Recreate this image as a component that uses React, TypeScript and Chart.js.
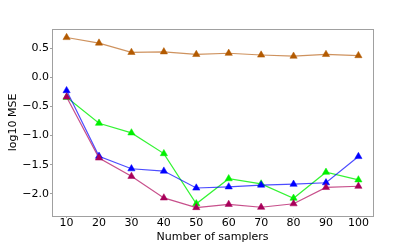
import React, { useEffect, useRef } from "react";
import { Chart, registerables } from "chart.js";

Chart.register(...registerables);

const samplers = [10, 20, 30, 40, 50, 60, 70, 80, 90, 100];
const orangeSeries = [0.68, 0.585, 0.425, 0.435, 0.39, 0.41, 0.38, 0.36, 0.39, 0.37];
const blueSeries = [-0.23, -1.355, -1.57, -1.61, -1.9, -1.88, -1.85, -1.835, -1.81, -1.36];
const greenSeries = [-0.345, -0.79, -0.955, -1.31, -2.17, -1.74, -1.83, -2.075, -1.63, -1.76];
const magentaSeries = [-0.34, -1.385, -1.7, -2.07, -2.235, -2.18, -2.23, -2.17, -1.89, -1.87];
const yTicks = [-2.0, -1.5, -1.0, -0.5, 0.0, 0.5];
const xTicks = samplers;

const FONT = "'DejaVu Sans', sans-serif";
const SPINE = "#a0a0a0";

const frame = {
  id: "frame",
  afterDraw(chart: any) {
    const { ctx, chartArea } = chart;
    ctx.save();
    ctx.strokeStyle = SPINE;
    ctx.lineWidth = 1;
    ctx.strokeRect(
      Math.round(chartArea.left) + 0.5,
      Math.round(chartArea.top) + 0.5,
      Math.round(chartArea.right - chartArea.left),
      Math.round(chartArea.bottom - chartArea.top)
    );
    ctx.restore();
  },
};

function mk(values: number[], color: string, line: string) {
  return {
    data: samplers.map((x, i) => ({ x, y: values[i] })),
    borderColor: line,
    borderWidth: 1.2,
    pointStyle: "triangle",
    pointRadius: 4.2,
    pointBackgroundColor: color,
    pointBorderColor: color,
    pointBorderWidth: 0.5,
    fill: false,
    tension: 0,
  };
}

const gridOpts = {
  display: true,
  drawOnChartArea: false,
  drawTicks: true,
  tickLength: 2,
  color: SPINE,
  tickColor: SPINE,
  lineWidth: 1,
};

export default function App() {
  const ref = useRef<HTMLCanvasElement>(null);
  useEffect(() => {
    const chart = new Chart(ref.current as HTMLCanvasElement, {
      type: "line",
      data: {
        datasets: [
          mk(orangeSeries, "#b35a00", "rgba(190,110,40,0.75)"),
          mk(magentaSeries, "#a8005a", "rgba(180,20,100,0.75)"),
          mk(blueSeries, "#0000ff", "rgba(0,0,255,0.7)"),
          mk(greenSeries, "#00f000", "rgba(0,240,0,0.8)"),
        ] as any,
      },
      options: {
        animation: false,
        responsive: false,
        devicePixelRatio: 1,
        layout: { padding: { top: 29, right: 42, left: 0, bottom: 0 } },
        plugins: { legend: { display: false }, tooltip: { enabled: false } },
        scales: {
          x: {
            type: "linear",
            min: 5.5,
            max: 104.5,
            grid: gridOpts as any,
            border: { display: false },
            afterBuildTicks: (s: any) => {
              s.ticks = xTicks.map((v) => ({ value: v }));
            },
            afterFit: (s: any) => {
              s.height = 28;
            },
            ticks: {
              padding: 0,
              color: "#000",
              font: { family: FONT, size: 11, lineHeight: 1 },
              callback: (v: any) => String(v),
            },
            title: {
              display: true,
              text: "Number of samplers",
              color: "#000",
              padding: { top: 0, bottom: 0 },
              font: { family: FONT, size: 11 },
            },
          },
          y: {
            min: -2.38,
            max: 0.826,
            grid: gridOpts as any,
            border: { display: false },
            afterBuildTicks: (s: any) => {
              s.ticks = yTicks.map((v) => ({ value: v }));
            },
            afterFit: (s: any) => {
              s.width = 52;
            },
            ticks: {
              padding: 1,
              color: "#000",
              font: { family: FONT, size: 11 },
              callback: (v: any) => (v < 0 ? "\u2212" : "") + Math.abs(v).toFixed(1),
            },
            title: {
              display: true,
              text: "log10 MSE",
              color: "#000",
              padding: { top: 7, bottom: 0 },
              font: { family: FONT, size: 11 },
            },
          },
        },
      },
      plugins: [frame],
    });
    return () => chart.destroy();
  }, []);
  return (
    <div style={{ position: "absolute", left: 0, top: 0, width: 415, height: 244, background: "#fff" }}>
      <canvas ref={ref} width={415} height={244} />
    </div>
  );
}
